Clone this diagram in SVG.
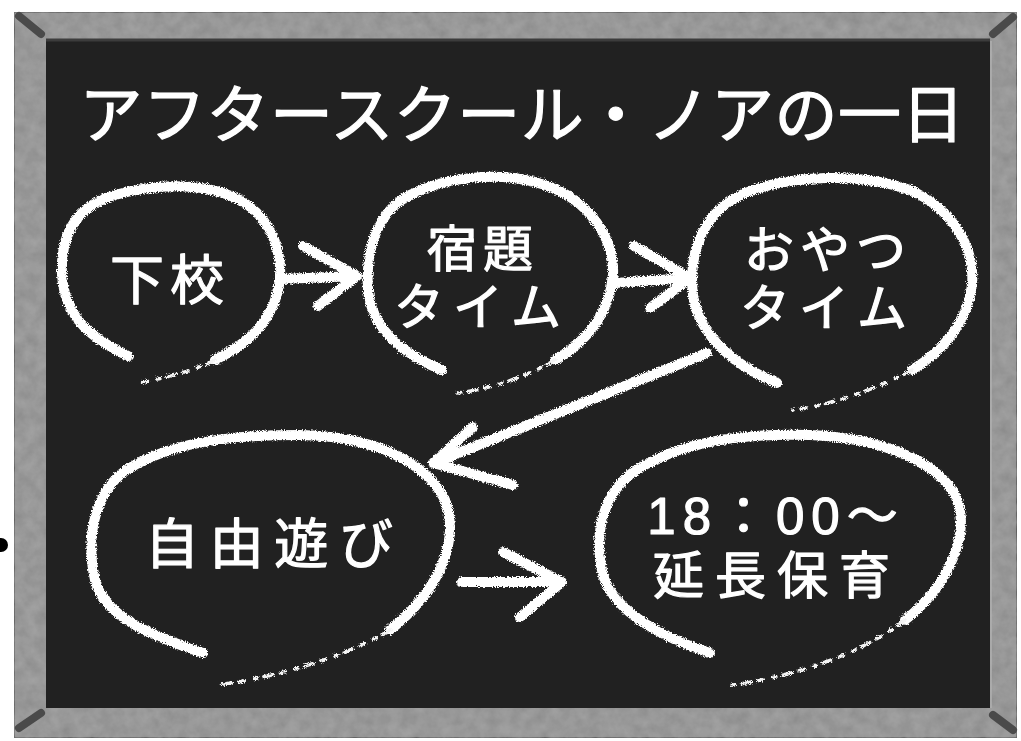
<svg xmlns="http://www.w3.org/2000/svg" width="1021" height="741" viewBox="0 0 1021 741">
<style>
.lbl{font-family:"Liberation Sans","Noto Sans CJK JP",sans-serif;fill:#fff;stroke:#fff;stroke-width:1.2;stroke-linejoin:round;text-anchor:middle}
.ring{fill:none;stroke:#fff;stroke-width:10;stroke-linecap:round;stroke-linejoin:round}
.spray{fill:none;stroke:#f4f4f4;stroke-width:3.5;stroke-linecap:round;stroke-dasharray:9 7 3 10 5 8}
.arr{fill:none;stroke:#fff;stroke-width:10;stroke-linecap:round;stroke-linejoin:round}
.bevel{stroke:#4a4a4a;stroke-width:8;stroke-linecap:round}
</style>
<defs>
<filter id="chalk" x="-10%" y="-10%" width="120%" height="120%">
<feTurbulence type="fractalNoise" baseFrequency="0.9" numOctaves="2" seed="3" result="n"/>
<feDisplacementMap in="SourceGraphic" in2="n" scale="5" xChannelSelector="R" yChannelSelector="G"/>
</filter>
<filter id="wood" x="0" y="0" width="100%" height="100%">
<feTurbulence type="fractalNoise" baseFrequency="0.08" numOctaves="3" seed="7" result="t"/>
<feColorMatrix in="t" type="matrix" values="0 0 0 0 0.5  0 0 0 0 0.5  0 0 0 0 0.5  0.5 0 0 0 0" result="g"/>
<feComposite in="g" in2="SourceGraphic" operator="in" result="gg"/>
<feMerge><feMergeNode in="SourceGraphic"/><feMergeNode in="gg"/></feMerge>
</filter>
</defs>

<g id="frame">
<rect x="14" y="12" width="1003" height="726" fill="#8a8a8a" stroke="#3a3a3a" stroke-width="1.5" filter="url(#wood)"/>
<rect x="46" y="41" width="944" height="667" fill="#212121"/>
<line x1="46" y1="40" x2="990" y2="40" stroke="#3c3c3c" stroke-width="3"/>
<line x1="991" y1="41" x2="991" y2="708" stroke="#b0b0b0" stroke-width="1.5"/>
<line class="bevel" x1="19" y1="16" x2="41" y2="34"/>
<line class="bevel" x1="993" y1="34" x2="1013" y2="17"/>
<line class="bevel" x1="19" y1="728" x2="41" y2="713"/>
<line class="bevel" x1="993" y1="715" x2="1013" y2="730"/>
<circle cx="1" cy="545" r="7" fill="#000"/>
</g>

<g id="title">
<text class="lbl" x="522" y="137" font-size="63" textLength="885" lengthAdjust="spacing" stroke-width="0.6">アフタースクール・ノアの一日</text>
</g>

<g id="node-gekou">
<g filter="url(#chalk)">
<path class="ring" d="M128,356 C95,340 65,320 62,275 C60,230 80,205 115,195 C150,185 200,180 240,200 C275,220 285,260 278,290 C270,325 245,345 215,360"/>
<path class="spray" d="M215,360 C190,372 165,378 138,383"/>
</g>
<text class="lbl" x="170" y="300" font-size="54" letter-spacing="6">下校</text>
</g>

<g id="node-shukudai">
<g filter="url(#chalk)">
<path class="ring" d="M442,370 C405,355 372,330 368,290 C365,245 380,210 410,195 C445,177 500,170 545,185 C590,200 615,240 613,275 C610,310 590,340 555,360"/>
<path class="spray" d="M555,360 C530,375 495,388 458,393"/>
</g>
<text class="lbl" font-size="50"><tspan x="483" y="267" letter-spacing="6">宿題</tspan><tspan x="482" y="325" letter-spacing="9">タイム</tspan></text>
</g>

<g id="node-oyatsu">
<g filter="url(#chalk)">
<path class="ring" d="M777,383 C740,368 700,340 693,295 C688,250 705,210 745,193 C790,175 860,172 910,190 C955,210 975,250 972,285 C968,320 945,350 912,370"/>
<path class="spray" d="M912,370 C875,390 830,405 793,410"/>
</g>
<text class="lbl" font-size="50"><tspan x="828" y="268" letter-spacing="6">おやつ</tspan><tspan x="828" y="326" letter-spacing="9">タイム</tspan></text>
</g>

<g id="node-asobi">
<g filter="url(#chalk)">
<path class="ring" d="M203,653 C160,638 105,620 95,580 C85,535 95,485 135,465 C180,440 240,435 300,435 C370,436 425,460 445,500 C460,540 440,590 390,630"/>
<path class="spray" d="M390,630 C340,660 270,678 218,685"/>
</g>
<text class="lbl" x="269" y="564" font-size="54" textLength="248" lengthAdjust="spacing">自由遊び</text>
</g>

<g id="node-encho">
<g filter="url(#chalk)">
<path class="ring" d="M710,653 C670,640 615,615 603,575 C592,530 605,485 645,465 C690,440 750,433 810,435 C880,438 935,460 955,495 C972,530 950,585 905,620"/>
<path class="spray" d="M905,620 C860,655 790,678 725,686"/>
</g>
<text class="lbl" font-size="51"><tspan x="776" y="534" letter-spacing="7">18：00〜</tspan><tspan x="777" y="594" letter-spacing="11">延長保育</tspan></text>
</g>

<g id="connectors" filter="url(#chalk)">
<path class="arr" d="M282,279 L355,276 M303,246 L357,276 L318,306"/>
<path class="arr" d="M616,283 L688,278 M634,246 L690,278 L650,308"/>
<path class="arr" d="M707,353 L436,462 M473,427 L433,463 L513,485"/>
<path class="arr" d="M462,582 L560,582 M503,552 L562,582 L520,617"/>
</g>
</svg>
